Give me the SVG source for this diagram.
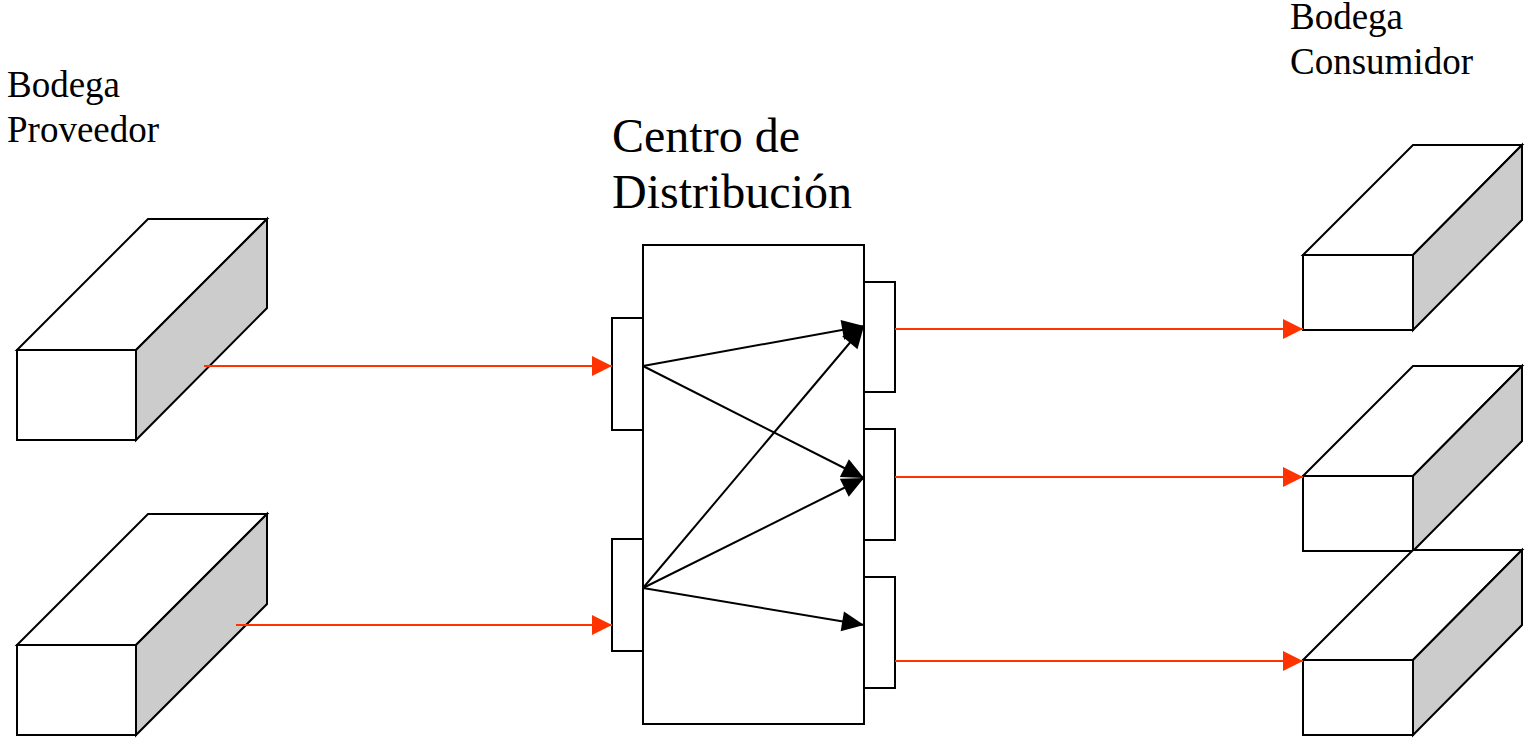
<svg xmlns="http://www.w3.org/2000/svg" width="1526" height="739" viewBox="0 0 1526 739">
  <style>
    .lbl { font-family: "Liberation Serif", "Times New Roman", serif; fill: #000; }
    .small { font-size: 37px; }
    .big { font-size: 48px; }
    .face { fill: #fff; stroke: #000; stroke-width: 2; stroke-linejoin: miter; }
    .side { fill: #cccccc; stroke: #000; stroke-width: 2; }
    .red { stroke: #ff3300; stroke-width: 2; fill: none; marker-end: url(#redHead); }
    .blk { stroke: #000; stroke-width: 2; fill: none; marker-end: url(#blkHead); }
  </style>
  <defs>
    <marker id="redHead" markerUnits="userSpaceOnUse" markerWidth="20" markerHeight="20" refX="20" refY="10" orient="auto" overflow="visible">
      <path d="M0,0 L20,10 L0,20 Z" fill="#ff3300"/>
    </marker>
    <marker id="blkHead" markerUnits="userSpaceOnUse" markerWidth="22" markerHeight="20" refX="22" refY="10" orient="auto" overflow="visible">
      <path d="M0,0 L22,10 L0,20 Z" fill="#000"/>
    </marker>
  </defs>

  <rect width="1526" height="739" fill="#fff"/>

  <!-- labels -->
  <g id="label-proveedor">
    <text class="lbl small" x="7" y="97">Bodega</text>
    <text class="lbl small" x="7" y="142">Proveedor</text>
  </g>
  <g id="label-centro">
    <text class="lbl big" x="612" y="152">Centro de</text>
    <text class="lbl big" x="612" y="208">Distribución</text>
  </g>
  <g id="label-consumidor">
    <text class="lbl small" x="1290" y="29">Bodega</text>
    <text class="lbl small" x="1290" y="74">Consumidor</text>
  </g>

  <!-- supplier warehouses -->
  <g id="proveedor-1">
    <polygon class="face" points="17,350 148,219 267,219 136,350"/>
    <polygon class="side" points="136,350 267,219 267,308 136,440"/>
    <rect class="face" x="17" y="350" width="119" height="90"/>
  </g>
  <g id="proveedor-2">
    <polygon class="face" points="17,645 148,514 267,514 136,645"/>
    <polygon class="side" points="136,645 267,514 267,604 136,735"/>
    <rect class="face" x="17" y="645" width="119" height="90"/>
  </g>

  <!-- distribution centre with docks -->
  <g id="centro">
    <rect class="face" x="643" y="245" width="221" height="479"/>
  </g>
  <g id="dock-in-1"><rect class="face" x="612" y="318" width="31" height="112"/></g>
  <g id="dock-in-2"><rect class="face" x="612" y="539" width="31" height="112"/></g>
  <g id="dock-out-1"><rect class="face" x="864" y="282" width="31" height="110"/></g>
  <g id="dock-out-2"><rect class="face" x="864" y="429" width="31" height="111"/></g>
  <g id="dock-out-3"><rect class="face" x="864" y="577" width="31" height="111"/></g>

  <!-- consumer warehouses -->
  <g id="consumidor-1">
    <polygon class="face" points="1303,255 1413,145 1522,145 1413,255"/>
    <polygon class="side" points="1413,255 1522,145 1522,220 1413,330"/>
    <rect class="face" x="1303" y="255" width="110" height="75"/>
  </g>
  <g id="consumidor-2">
    <polygon class="face" points="1303,476 1413,366 1522,366 1413,476"/>
    <polygon class="side" points="1413,476 1522,366 1522,441 1413,551"/>
    <rect class="face" x="1303" y="476" width="110" height="75"/>
  </g>
  <g id="consumidor-3">
    <polygon class="face" points="1303,660 1413,550 1522,550 1413,660"/>
    <polygon class="side" points="1413,660 1522,550 1522,625 1413,735"/>
    <rect class="face" x="1303" y="660" width="110" height="75"/>
  </g>

  <!-- flows -->
  <g id="connectors">
    <line class="red" x1="204" y1="366" x2="612" y2="366"/>
    <line class="red" x1="236" y1="625" x2="612" y2="625"/>
    <line class="blk" x1="643" y1="366" x2="864" y2="326"/>
    <line class="blk" x1="643" y1="366" x2="864" y2="478"/>
    <line class="blk" x1="643" y1="588" x2="864" y2="326"/>
    <line class="blk" x1="643" y1="588" x2="864" y2="478"/>
    <line class="blk" x1="643" y1="588" x2="864" y2="625"/>
    <line class="red" x1="895" y1="329" x2="1303" y2="329"/>
    <line class="red" x1="895" y1="477" x2="1303" y2="477"/>
    <line class="red" x1="895" y1="661" x2="1303" y2="661"/>
  </g>
</svg>
